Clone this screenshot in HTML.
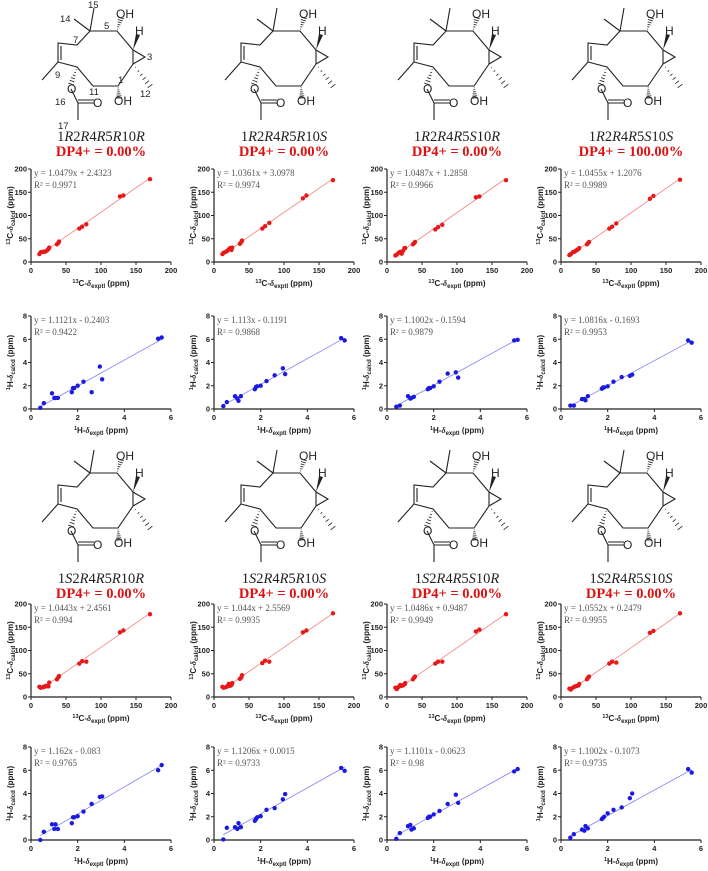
<!DOCTYPE html>
<html><head><meta charset="utf-8"><style>
body{margin:0;background:#fff}
svg{display:block;font-family:"Liberation Sans",Arial,sans-serif}
.tk{font-size:7.5px;font-weight:bold;fill:#222}
.ax{font-size:8px;font-weight:bold;fill:#222}
.eq{font-family:"Liberation Serif",serif;font-size:9px;fill:#555}
.st{font-family:"Liberation Serif",serif;font-size:14.5px;fill:#222}
.dp{font-family:"Liberation Serif",serif;font-size:14.5px;font-weight:bold;fill:#e01010}
.ml{stroke:#222;stroke-width:1.1;fill:none}
.at{font-size:12px;fill:#222}
.nm{font-size:9.5px;fill:#222}
</style></head><body>
<svg id="fig" width="708" height="871" viewBox="0 0 708 871" xmlns="http://www.w3.org/2000/svg"></svg>
<script>
const colX=[31,214,387,561];
const stereoLabels=["1R2R4R5R10R","1R2R4R5R10S","1R2R4R5S10R","1R2R4R5S10S","1S2R4R5R10R","1S2R4R5R10S","1S2R4R5S10R","1S2R4R5S10S"];
const dp4Values=["0.00","0.00","0.00","100.00","0.00","0.00","0.00","0.00"];
const cTicks=[0,50,100,150,200];
const hTicks=[0,2,4,6,8];
const hXTicks=[0,2,4,6];
const cSlope=[1.0479,1.0361,1.0487,1.0455,1.0443,1.044,1.0486,1.0552];
const cIntercept=[2.4323,3.0978,1.2858,1.2076,2.4561,2.5569,0.9487,0.2479];
const cR2=["0.9971","0.9974","0.9966","0.9989","0.994","0.9935","0.9949","0.9955"];
const hSlope=[1.1121,1.113,1.1002,1.0816,1.162,1.1206,1.1101,1.1002];
const hIntercept=[-0.2403,-0.1191,-0.1594,-0.1693,-0.083,0.0015,-0.0623,-0.1073];
const hR2=["0.9422","0.9868","0.9879","0.9953","0.9765","0.9733","0.98","0.9735"];
const cExp=[12,14,17,19,21,23,25,26,37,39,40,69,73,79,127,132,170];
const cCalc=[
[17,21,22,22,23,25,28,31,38,41,44,72,76,81,141,143,178],
[17,20,22,24,27,30,26,31,39,43,46,72,77,84,137,143,176],
[14,16,20,22,18,24,30,30,38,41,43,70,75,80,139,141,176],
[15,17,21,22,24,26,28,30,38,41,43,72,76,83,136,142,177],
[22,20,21,22,24,23,23,31,38,42,45,72,77,76,139,143,178],
[22,20,21,23,28,24,26,30,39,42,47,73,78,76,139,143,180],
[20,17,22,26,24,25,27,30,38,42,44,72,76,76,141,145,178],
[18,16,20,22,23,24,25,28,38,42,44,72,76,74,138,142,180]];
const hExp=[0.4,0.55,0.9,1.0,1.05,1.15,1.75,1.8,1.85,2.0,2.25,2.6,2.95,3.05,5.45,5.6];
const hCalc=[
[0.1,0.5,1.35,0.95,0.95,0.95,1.45,1.8,1.8,2.0,2.35,1.45,3.65,2.55,6.05,6.15],
[0.25,0.6,1.1,0.9,0.7,1.1,1.7,1.9,1.95,2.0,2.4,2.9,3.5,3.0,6.1,5.9],
[0.2,0.3,1.1,0.9,0.95,1.05,1.7,1.8,1.8,1.95,2.35,3.05,3.15,2.7,5.9,5.95],
[0.3,0.3,0.85,0.85,0.75,1.1,1.75,1.85,1.85,1.95,2.35,2.75,2.85,2.95,5.9,5.7],
[0.0,0.7,1.35,0.95,1.35,0.95,1.45,1.95,1.95,2.05,2.45,3.1,3.7,3.75,6.0,6.45],
[0.05,1.05,1.1,0.95,1.45,1.1,1.65,1.8,1.95,2.05,2.6,2.75,3.5,3.95,6.2,5.95],
[0.1,0.6,1.2,1.3,0.9,1.0,1.9,2.0,2.0,2.2,2.5,3.1,3.9,3.2,5.9,6.1],
[0.2,0.5,0.9,0.8,1.2,1.0,1.8,1.9,2.0,2.3,2.6,2.8,3.6,4.0,6.1,5.8]];

const svg=document.getElementById('fig');
const NS='http://www.w3.org/2000/svg';
function mk(tag,attrs,parent,text){const e=document.createElementNS(NS,tag);for(const k in attrs)e.setAttribute(k,attrs[k]);if(text!==undefined)e.textContent=text;(parent||svg).appendChild(e);return e;}

function chart(i,x0,top,kind){
  const W=140,H=93;
  const g=mk('g',{});
  
  
  const xmax=kind==='c'?200:6, ymax=kind==='c'?200:8;
  const sx=v=>x0+v/xmax*W, sy=v=>top+H-v/ymax*H;
  const xt=kind==='c'?cTicks:hXTicks, yt=kind==='c'?cTicks:hTicks;
  mk('line',{x1:x0,y1:top,x2:x0,y2:top+H,stroke:'#222','stroke-width':1.2},g);
  mk('line',{x1:x0,y1:top+H,x2:x0+W,y2:top+H,stroke:'#222','stroke-width':1.2},g);
  yt.forEach(v=>{mk('line',{x1:x0-3,y1:sy(v),x2:x0,y2:sy(v),stroke:'#222'},g);
    const t=mk('text',{x:x0-4,y:sy(v)+2.5,'text-anchor':'end',class:'tk'},g,v);
    });
  xt.forEach(v=>{mk('line',{x1:sx(v),y1:top+H,x2:sx(v),y2:top+H+3,stroke:'#222'},g);
    const t=mk('text',{x:sx(v),y:top+H+11,'text-anchor':'middle',class:'tk'},g,v);
    });
  const ex=kind==='c'?cExp:hExp, ca=kind==='c'?cCalc[i]:hCalc[i];
  const m=kind==='c'?cSlope[i]:hSlope[i], b=kind==='c'?cIntercept[i]:hIntercept[i];
  const col=kind==='c'?'#e81818':'#1a1ae0', lc=kind==='c'?'#f08080':'#8080f0';
  const xa=Math.min(...ex), xb=Math.max(...ex);
  const ln=mk('line',{x1:sx(xa),y1:sy(m*xa+b),x2:sx(xb),y2:sy(m*xb+b),stroke:lc,'stroke-width':0.8},g);
  
  ex.forEach((v,k)=>{const c=mk('circle',{cx:sx(v),cy:sy(ca[k]),r:2.2,fill:col},g);
    });
  const sign=b<0?' - ':' + ';
  const e1=mk('text',{x:x0+3,y:top+7,class:'eq'},g,'y = '+m+'x'+sign+Math.abs(b));
  
  const e2=mk('text',{x:x0+3,y:top+19,class:'eq'},g,'R² = '+(kind==='c'?cR2[i]:hR2[i]));
  
  const el=kind==='c'?'13':'1', an=kind==='c'?'C':'H';
  const xt2=mk('text',{x:x0+W/2,y:top+H+24,'text-anchor':'middle',class:'ax'},g);
  
  xt2.innerHTML='<tspan font-size="5.5" dy="-3">'+el+'</tspan><tspan dy="3">'+an+'-</tspan><tspan font-style="italic" font-family="Liberation Serif">δ</tspan><tspan font-size="6" dy="2">exptl</tspan><tspan dy="-2"> (ppm)</tspan>';
  const yt2=mk('text',{transform:'translate('+(x0-18)+','+(top+H/2)+') rotate(-90)','text-anchor':'middle',class:'ax'},g);
  
  yt2.innerHTML='<tspan font-size="5.5" dy="-3">'+el+'</tspan><tspan dy="3">'+an+'-</tspan><tspan font-style="italic" font-family="Liberation Serif">δ</tspan><tspan font-size="6" dy="2">calcd</tspan><tspan dy="-2"> (ppm)</tspan>';
}

function molecule(i,dx,dy,numbered){
  const g=mk('g',{transform:'translate('+dx+','+dy+')'});
  
  
  const P='M90,31 L117,31 L133,50 L133,64 L118,86 L93,86 L77,67 L58,62 L58,43 L77,45 L90,31 M133,50 L145,57 L133,64 M90,31 L74,19 M90,31 L94,8 M58,62 L42,80 M61,46 L61,60 M71,89 L78,103 L94,103 M78,100 L94,100 M78,103 L78,120';
  mk('path',{d:P,class:'ml'},g);
  const hash=(x1,y1,x2,y2)=>{for(let t=0.15;t<=1;t+=0.17){const x=x1+(x2-x1)*t,y=y1+(y2-y1)*t,w=t*3;const dxn=-(y2-y1),dyn=(x2-x1),L=Math.hypot(dxn,dyn);mk('line',{x1:x-dxn/L*w,y1:y-dyn/L*w,x2:x+dxn/L*w,y2:y+dyn/L*w,stroke:'#222','stroke-width':0.8},g);}};
  hash(117,31,121,18);hash(118,86,119,98);hash(133,64,150,86);hash(77,67,71,84);
  mk('polygon',{points:'133,50 136,34 140,35',fill:'#222'},g);
  mk('text',{x:116,y:18,class:'at'},g,'OH');
  mk('text',{x:135,y:35,class:'at'},g,'H');
  mk('text',{x:114,y:105,class:'at'},g,'OH');
  mk('text',{x:67,y:93,class:'at'},g,'O');
  mk('text',{x:93,y:107,class:'at'},g,'O');
  if(numbered){
    [['15',88,8],['14',60,22],['5',104,29],['7',73,43],['3',147,60],['9',55,78],['11',89,95],['1',118,83],['12',140,97],['16',55,105],['17',58,129]].forEach(a=>mk('text',{x:a[1],y:a[2],class:'nm'},g,a[0]));
  }
}

function stereo(i,cx,y){
  const t=mk('text',{x:cx,y:y,'text-anchor':'middle',class:'st'});
  
  t.innerHTML=stereoLabels[i].replace(/([RS])/g,'<tspan font-style="italic">$1</tspan>');
  const d=mk('text',{x:cx,y:y+15,'text-anchor':'middle',class:'dp'},svg,'DP4+ = '+dp4Values[i]+'%');
  
}

const molDx=[0,183,356,530];
for(let r=0;r<2;r++){
  for(let c=0;c<4;c++){
    const i=r*4+c;
    molecule(i,molDx[c],r*440+(r?2:0),i===0);
    stereo(i,colX[c]+70,r?583:141);
    chart(i,colX[c],r?604:169,'c');
    chart(i,colX[c],r?747:316,'h');
  }
}
</script>
</body></html>
